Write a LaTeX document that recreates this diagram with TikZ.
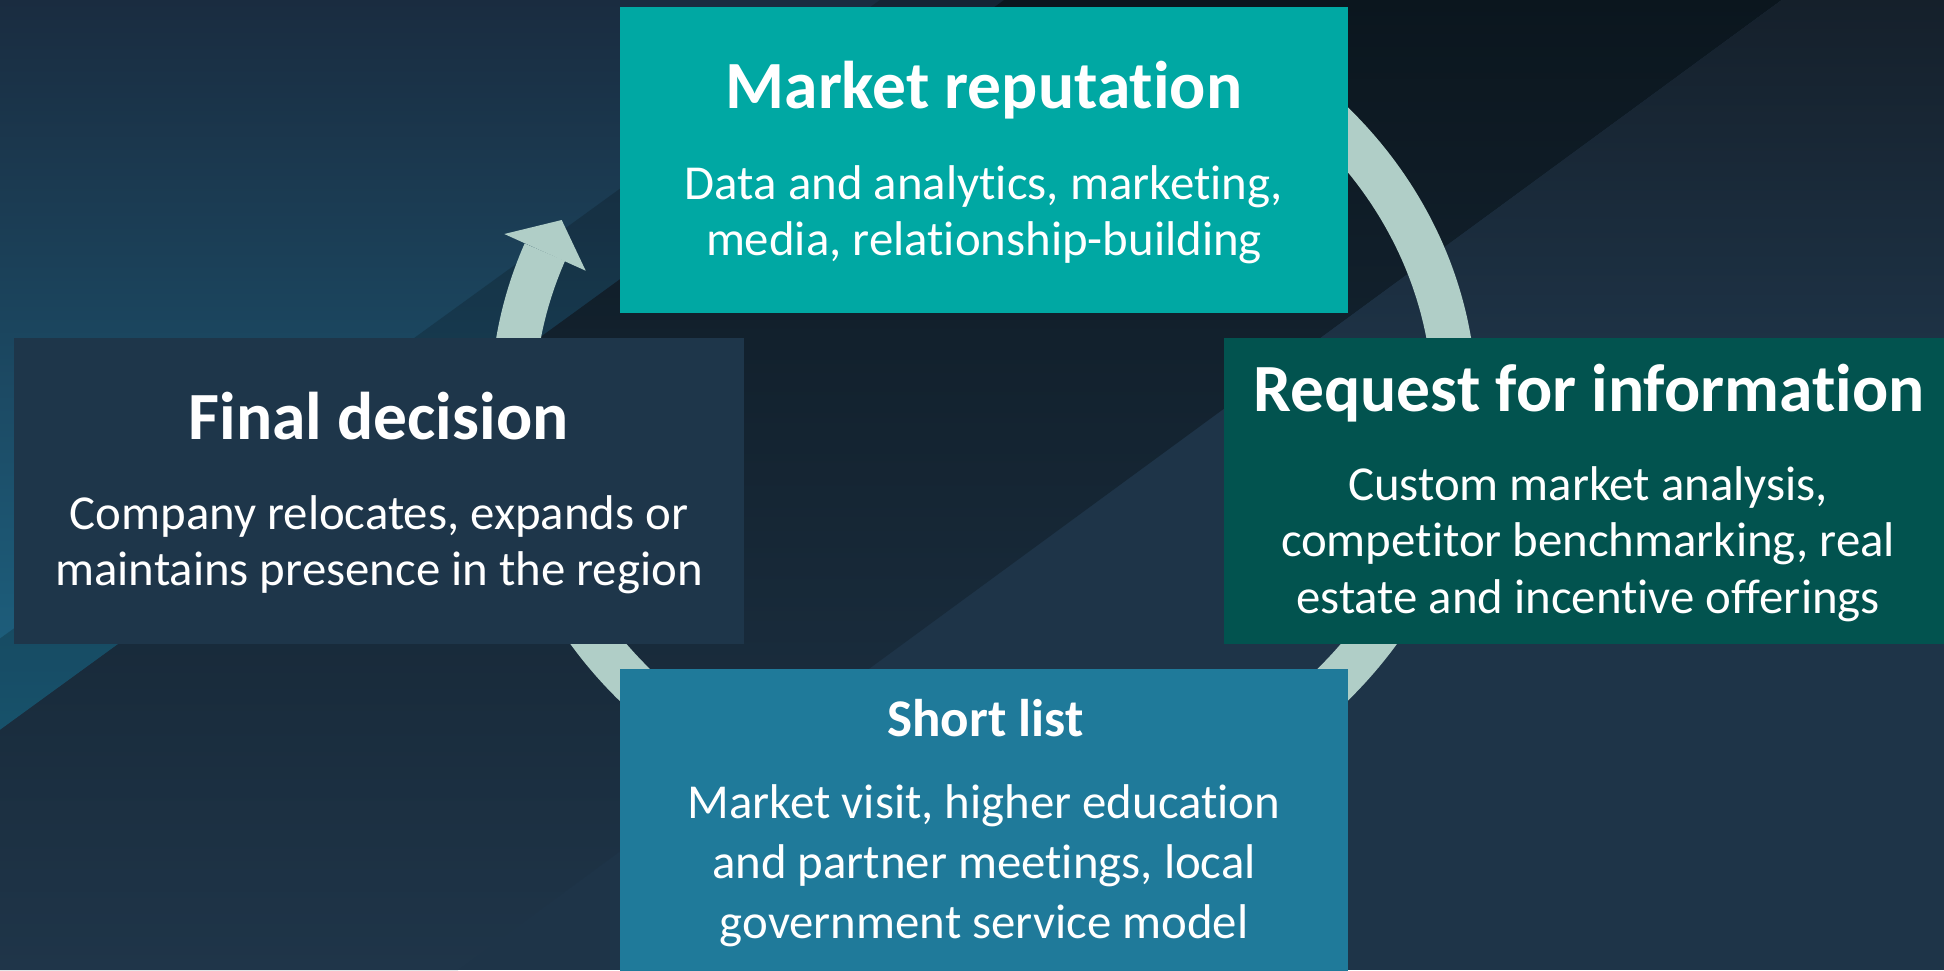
\documentclass[tikz,border=0pt]{standalone}
\usepackage{fontspec}
\setmainfont{Carlito}[Ligatures=NoCommon]
\definecolor{navy}{HTML}{1E3448}
\definecolor{tealtop}{HTML}{1A2C40}
\definecolor{tealbot}{HTML}{1D6483}
\definecolor{midtop}{HTML}{0B161E}
\definecolor{midmid}{HTML}{1A2B3B}
\definecolor{midbot}{HTML}{1F3549}
\definecolor{righttop}{HTML}{15202B}
\definecolor{ringcol}{HTML}{B0CEC7}
\definecolor{mrcol}{HTML}{00A8A3}
\definecolor{rficol}{HTML}{02534F}
\definecolor{fdcol}{HTML}{1E364A}
\definecolor{slcol}{HTML}{1F7A9A}
\begin{document}
\begin{tikzpicture}[x=1pt,y=-1pt,
  box/.style={draw=none,inner sep=0pt,anchor=north west},
  ttl/.style={text=white,inner sep=0pt,anchor=base,font=\bfseries\fontsize{67.5}{70}\selectfont},
  subttl/.style={text=white,inner sep=0pt,anchor=base,font=\bfseries\fontsize{53}{56}\selectfont},
  bodytxt/.style={text=white,inner sep=0pt,anchor=base,font=\fontsize{48.8}{56}\selectfont},
  ring/.style={draw=ringcol,line width=44pt,line cap=butt}]
\clip (0,0) rectangle (1944,970);
% background
\fill[navy] (0,0) rectangle (1944,970);
\shade[top color=tealtop,bottom color=tealbot] (0,0) -- (1004,0) -- (0,730) -- cycle;
\fill[black,opacity=0.18] (880,0) -- (1004,0) -- (0,730) -- (0,638.5) -- cycle;
\shade[top color=midtop,middle color=midmid,bottom color=midbot]
  (1004,0) -- (1781.6,0) -- (458,970) -- (0,970) -- (0,730) -- cycle;
\begin{scope}
  \clip (1781.6,0) -- (1944,0) -- (1944,970) -- (458,970) -- cycle;
  \shade[top color=righttop,bottom color=navy] (0,0) rectangle (1944,380);
\end{scope}
% cycle ring
\coordinate (arcstart) at (1253.8,61.6);
\draw[ring] (arcstart) arc[start angle=-55,end angle=201.3,x radius=471,y radius=418] coordinate (arcend);
\coordinate (barbL) at (504.3,234);
\coordinate (barbR) at (585.7,270.7);
\coordinate (tip) at (561.7,220);
\fill[ringcol] (barbL) -- (tip) -- (barbR) -- cycle;
% boxes
\node[box,fill=mrcol,minimum width=728pt,minimum height=306pt] (mr) at (620,6.7) {};
\node[box,fill=rficol,minimum width=740pt,minimum height=305.6pt] (rfi) at (1224,337.7) {};
\node[box,fill=fdcol,minimum width=730.4pt,minimum height=305.6pt] (fd) at (13.6,337.7) {};
\node[box,fill=slcol,minimum width=728pt,minimum height=320pt] (sl) at (620,669) {};
% texts
\node[ttl] (mrt) at (984,108.3) {Market reputation};
\node[bodytxt] (mrb1) at (984,199) {Data and analytics, marketing,};
\node[bodytxt] (mrb2) at (984,255) {media, relationship-building};
\node[ttl] (rfit) at (1589,411.7) {Request for information};
\node[bodytxt] (rfib1) at (1588,500) {Custom market analysis,};
\node[bodytxt] (rfib2) at (1588,556.7) {competitor benchmarking, real};
\node[bodytxt] (rfib3) at (1588,613.3) {estate and incentive offerings};
\node[ttl] (fdt) at (378.5,439.3) {Final decision};
\node[bodytxt] (fdb1) at (379,529.3) {Company relocates, expands or};
\node[bodytxt] (fdb2) at (379,585) {maintains presence in the region};
\node[subttl] (slt) at (985.5,736.7) {Short list};
\node[bodytxt] (slb1) at (984,818.3) {Market visit, higher education};
\node[bodytxt] (slb2) at (984,878.3) {and partner meetings, local};
\node[bodytxt] (slb3) at (984,938.3) {government service model};
\end{tikzpicture}
\end{document}
